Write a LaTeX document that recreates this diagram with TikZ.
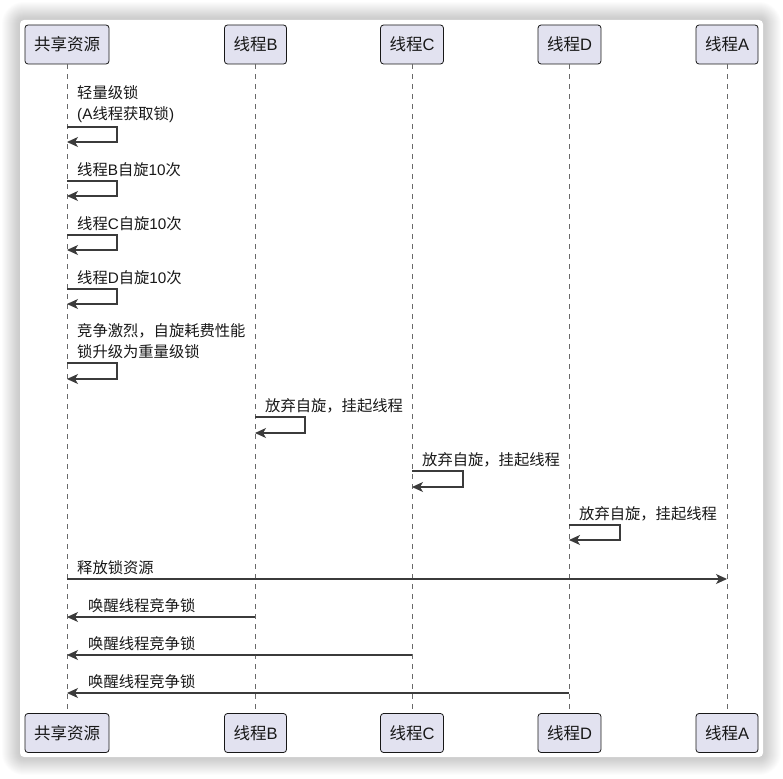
\documentclass[tikz,border=0pt]{standalone}
\usepackage{fontspec}
\setmainfont{Liberation Sans}
\newfontfamily\cjk{Noto Sans CJK SC}
\newcommand\zh[1]{{\cjk #1}}
\usetikzlibrary{arrows.meta}
\definecolor{partfill}{HTML}{E2E2F0}
\definecolor{ink}{HTML}{181818}
\begin{document}
\begin{tikzpicture}[x=1pt,y=-1pt,
  part/.style={draw=ink, fill=partfill, rounded corners=3pt, line width=0.8pt,
    minimum height=39pt, inner xsep=9pt, inner ysep=0pt, text=ink,
    font=\fontsize{16.5}{20}\selectfont},
  life/.style={draw=ink!65, line width=0.8pt, dash pattern=on 5pt off 5pt},
  msg/.style={draw=ink!85, line width=1.1pt, rounded corners=0pt,
    -{Stealth[length=11pt,width=10pt,inset=3pt]}},
  lbl/.style={inner sep=0pt, font=\fontsize{15.3}{21}\selectfont, align=left, text=ink},
]
\useasboundingbox (0,0) rectangle (783,778);

% soft drop shadow under the sheet
\foreach \i in {1,...,18}{
  \pgfmathsetmacro\rr{4+\i}
  \fill[black, fill opacity=0.013, rounded corners=\rr pt]
    (20-\i,20-\i) rectangle (763+\i,757+\i);
}
\fill[white, rounded corners=4pt] (20,20) rectangle (763,757);

% participants, top and bottom
\node[part] (rT) at (67,44.5)    {\zh{共享资源}};
\node[part] (bT) at (255.5,44.5) {\zh{线程}B};
\node[part] (cT) at (412,44.5)   {\zh{线程}C};
\node[part] (dT) at (569.5,44.5) {\zh{线程}D};
\node[part] (aT) at (727,44.5)   {\zh{线程}A};
\node[part] (rB) at (67,733)     {\zh{共享资源}};
\node[part] (bB) at (255.5,733)  {\zh{线程}B};
\node[part] (cB) at (412,733)    {\zh{线程}C};
\node[part] (dB) at (569.5,733)  {\zh{线程}D};
\node[part] (aB) at (727,733)    {\zh{线程}A};

% lifelines
\foreach \p in {r,b,c,d,a}{
  \draw[life] (\p T.south) -- (\p B.north);
}

% self messages on the shared resource
\coordinate (m1a) at (67,127); \coordinate (m1b) at (67,142);
\node[lbl, anchor=south west] (t1) at (77,123) {\zh{轻量级锁}\\(A\zh{线程获取锁})};
\draw[msg] (m1a) -- ++(50,0) |- (m1b);

\coordinate (m2a) at (67,181); \coordinate (m2b) at (67,196);
\node[lbl, anchor=south west] (t2) at (77,177) {\zh{线程}B\zh{自旋}10\zh{次}};
\draw[msg] (m2a) -- ++(50,0) |- (m2b);

\coordinate (m3a) at (67,235); \coordinate (m3b) at (67,250);
\node[lbl, anchor=south west] (t3) at (77,231) {\zh{线程}C\zh{自旋}10\zh{次}};
\draw[msg] (m3a) -- ++(50,0) |- (m3b);

\coordinate (m4a) at (67,289); \coordinate (m4b) at (67,304);
\node[lbl, anchor=south west] (t4) at (77,285) {\zh{线程}D\zh{自旋}10\zh{次}};
\draw[msg] (m4a) -- ++(50,0) |- (m4b);

\coordinate (m5a) at (67,363); \coordinate (m5b) at (67,379);
\node[lbl, anchor=south west] (t5) at (77,359) {\zh{竞争激烈，自旋耗费性能}\\\zh{锁升级为重量级锁}};
\draw[msg] (m5a) -- ++(50,0) |- (m5b);

% threads give up spinning
\coordinate (m6a) at (255,417); \coordinate (m6b) at (255,433);
\node[lbl, anchor=south west] (t6) at (265,413) {\zh{放弃自旋，挂起线程}};
\draw[msg] (m6a) -- ++(50,0) |- (m6b);

\coordinate (m7a) at (412,471); \coordinate (m7b) at (412,487);
\node[lbl, anchor=south west] (t7) at (422,467) {\zh{放弃自旋，挂起线程}};
\draw[msg] (m7a) -- ++(51,0) |- (m7b);

\coordinate (m8a) at (569,525); \coordinate (m8b) at (569,540);
\node[lbl, anchor=south west] (t8) at (579,521) {\zh{放弃自旋，挂起线程}};
\draw[msg] (m8a) -- ++(51,0) |- (m8b);

% release and wake-up
\coordinate (m9a) at (67,579); \coordinate (m9b) at (727,579);
\node[lbl, anchor=south west] (t9) at (77,575) {\zh{释放锁资源}};
\draw[msg] (m9a) -- (m9b);

\coordinate (m10a) at (255,617); \coordinate (m10b) at (67,617);
\node[lbl, anchor=south west] (t10) at (88,613) {\zh{唤醒线程竞争锁}};
\draw[msg] (m10a) -- (m10b);

\coordinate (m11a) at (412,655); \coordinate (m11b) at (67,655);
\node[lbl, anchor=south west] (t11) at (88,651) {\zh{唤醒线程竞争锁}};
\draw[msg] (m11a) -- (m11b);

\coordinate (m12a) at (569,693); \coordinate (m12b) at (67,693);
\node[lbl, anchor=south west] (t12) at (88,689) {\zh{唤醒线程竞争锁}};
\draw[msg] (m12a) -- (m12b);
\end{tikzpicture}
\end{document}
